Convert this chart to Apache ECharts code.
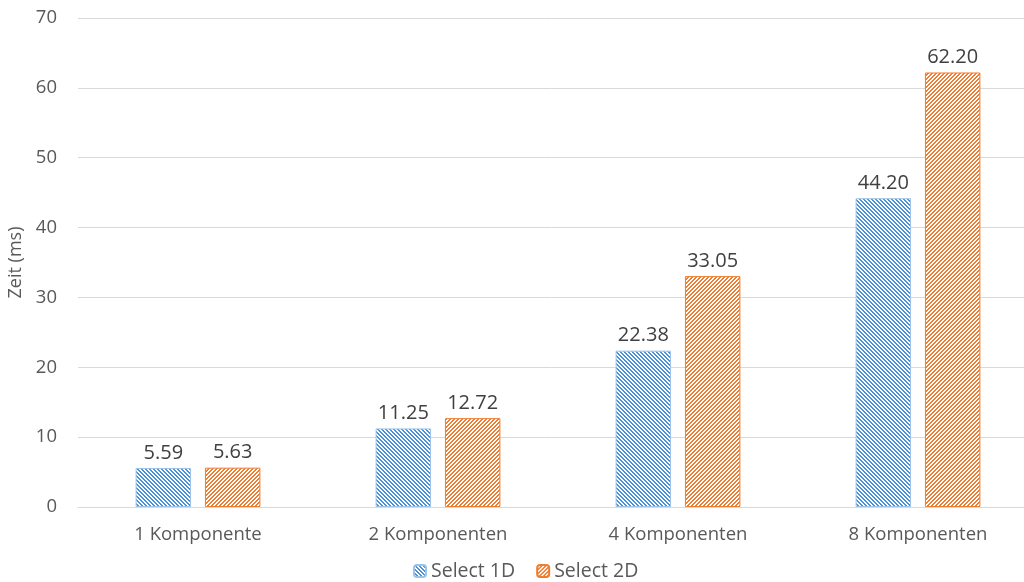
<!DOCTYPE html>
<html>
<head>
<meta charset="utf-8">
<style>
  html, body { margin: 0; padding: 0; background: #fff; }
  #chart { width: 1024px; height: 582px; }
</style>
<script src="https://cdn.jsdelivr.net/npm/echarts@6/dist/echarts.min.js"></script>
</head>
<body>
<div id="chart"></div>
<script>
const categories = ['1 Komponente', '2 Komponenten', '4 Komponenten', '8 Komponenten'];
const select1D = [5.59, 11.25, 22.38, 44.20];
const select2D = [5.63, 12.72, 33.05, 62.20];
const seriesNames = ['Select 1D', 'Select 2D'];

// Small pixel tile for a diagonal hatch fill
function hatch(color, down) {
  const c = document.createElement('canvas');
  c.width = 4; c.height = 4;
  const ctx = c.getContext('2d');
  ctx.fillStyle = '#ffffff';
  ctx.fillRect(0, 0, 4, 4);
  ctx.fillStyle = color;
  for (let y = 0; y < 4; y++) {
    for (let x = 0; x < 4; x++) {
      const k = down ? ((x - y) % 4 + 4) % 4 : (x + y) % 4;
      if (k === 0 || k === 1) ctx.fillRect(x, y, 1, 1);
    }
  }
  return { image: c, repeat: 'repeat' };
}

const blueFill = hatch('#4A90D9', true);
const orangeFill = hatch('#ED7D31', false);

const font = 'Open Sans';
const labelCfg = {
  show: true,
  position: 'top',
  distance: 5,
  color: '#404040',
  fontFamily: font,
  fontSize: 20,
  formatter: p => p.value.toFixed(2)
};

const chart = echarts.init(document.getElementById('chart'));
chart.setOption({
  animation: false,
  grid: { left: 78, top: 18, width: 960, height: 489, outerBoundsMode: 'none', containLabel: false },
  legend: {
    bottom: -4,
    left: 408,
    itemWidth: 12,
    itemHeight: 12,
    itemGap: 21,
    textStyle: { color: '#595959', fontFamily: font, fontSize: 19.5 },
    data: seriesNames
  },
  xAxis: {
    type: 'category',
    data: categories,
    axisTick: { show: false },
    axisLine: { lineStyle: { color: '#d9d9d9' } },
    axisLabel: { color: '#595959', fontFamily: font, fontSize: 18.5, margin: 18 }
  },
  yAxis: {
    type: 'value',
    min: 0,
    max: 70,
    interval: 10,
    name: 'Zeit (ms)',
    nameLocation: 'middle',
    nameGap: 52,
    nameTextStyle: { color: '#595959', fontFamily: font, fontSize: 18 },
    axisLine: { show: false },
    axisTick: { show: false },
    splitLine: { lineStyle: { color: '#d9d9d9' } },
    axisLabel: { color: '#595959', fontFamily: font, fontSize: 18.5, margin: 21 }
  },
  series: [
    {
      name: seriesNames[0],
      type: 'bar',
      data: select1D,
      barGap: '25%',
      barCategoryGap: '48%',
      itemStyle: { color: blueFill, borderColor: '#9DC3E6', borderWidth: 1 },
      label: labelCfg
    },
    {
      name: seriesNames[1],
      type: 'bar',
      data: select2D,
      barGap: '25%',
      barCategoryGap: '48%',
      itemStyle: { color: orangeFill, borderColor: '#ED7D31', borderWidth: 1 },
      label: labelCfg
    }
  ]
});
</script>
</body>
</html>
